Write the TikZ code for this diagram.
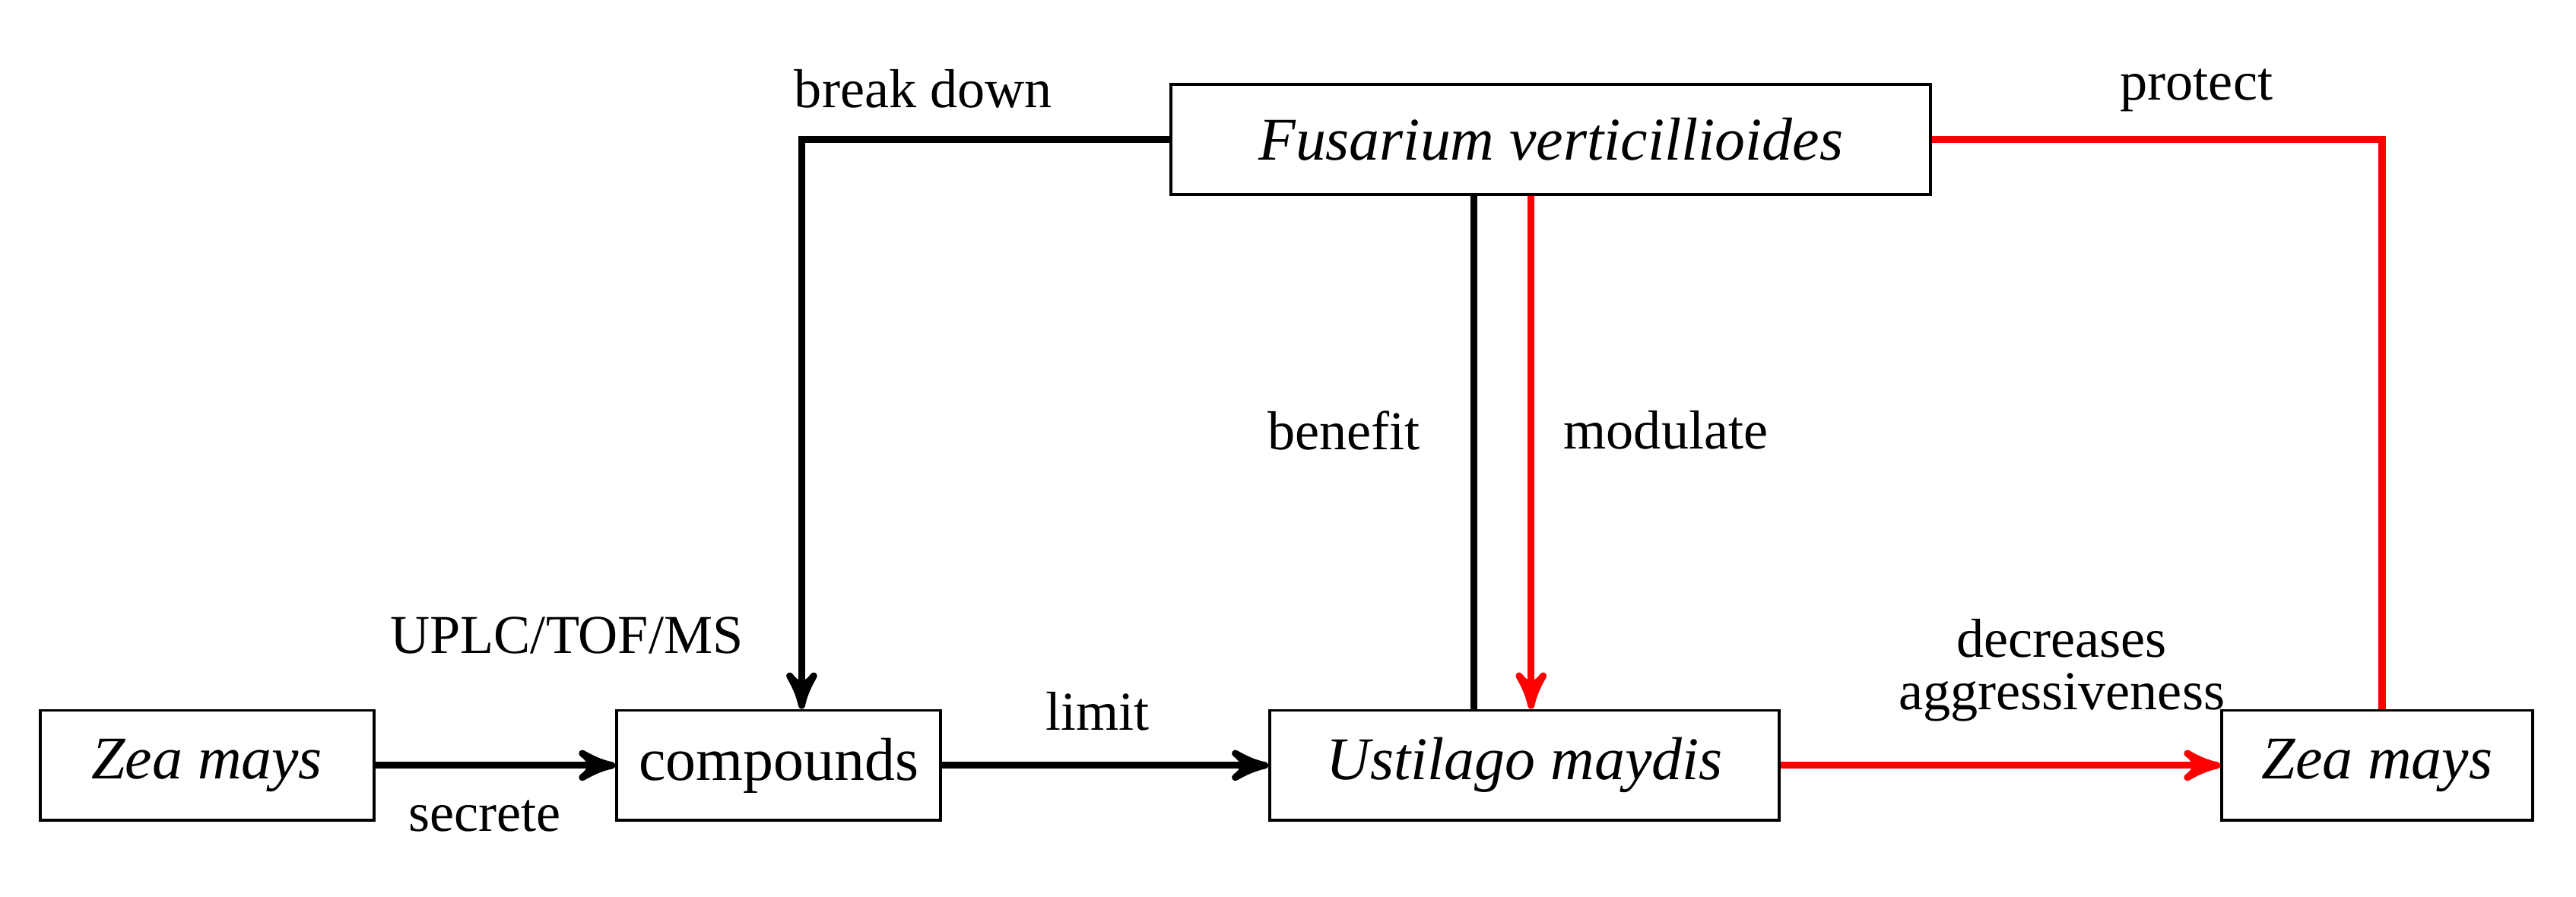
\documentclass[tikz,border=0pt]{standalone}
\usepackage{fontspec}
\setmainfont{Liberation Serif}
\usetikzlibrary{arrows}
\begin{document}
\begin{tikzpicture}[x=0.01cm,y=-0.01cm,>=stealth',
        box/.style={draw,line width=0.5pt,minimum height=0.67cm,inner sep=0pt,font=\fontsize{10.5}{12}\selectfont},
        lbl/.style={font=\fontsize{9.5}{11}\selectfont,align=center},
        blk/.style={line width=1.2pt},
        red/.style={line width=1.2pt,draw=red}]
  \useasboundingbox (0,0) rectangle (1568,546);

  \node[box,minimum width=2.03cm] (Z1) at (126,466) {\itshape Zea mays};
  \node[box,minimum width=1.97cm] (C) at (474,466) {compounds};
  \node[box,minimum width=3.10cm] (U) at (928,466) {\itshape Ustilago maydis};
  \node[box,minimum width=1.89cm] (Z2) at (1447,466) {\itshape Zea mays};
  \node[box,minimum width=4.62cm] (F) at (944,85) {\itshape Fusarium verticillioides};

  \coordinate (bd) at (488,85);
  \coordinate (pr) at (1450,85);

  \draw[blk,->] (Z1) -- (C);
  \draw[blk,->] (C) -- (U);
  \draw[blk,->] (F.west) -- (bd) -- (C.north -| bd);
  \draw[blk] (F.south -| 897,0) -- (U.north -| 897,0);
  \draw[red,->] (F.south -| 932,0) -- (U.north -| 932,0);
  \draw[red] (F.east) -- (pr) -- (Z2.north -| pr);
  \draw[red,->] (U) -- (Z2);

  \node[lbl] (l1) at (562,54) {break down};
  \node[lbl] (l2) at (1337,55) {protect};
  \node[lbl] (l3) at (818,262) {benefit};
  \node[lbl] (l4) at (1014,262) {modulate};
  \node[lbl] (l5) at (345,387) {UPLC/TOF/MS};
  \node[lbl] (l6) at (295,497) {secrete};
  \node[lbl] (l7) at (668,433) {limit};
  \node[lbl] (l8) at (1255,408) {decreases\\[-2pt]aggressiveness};
\end{tikzpicture}
\end{document}
